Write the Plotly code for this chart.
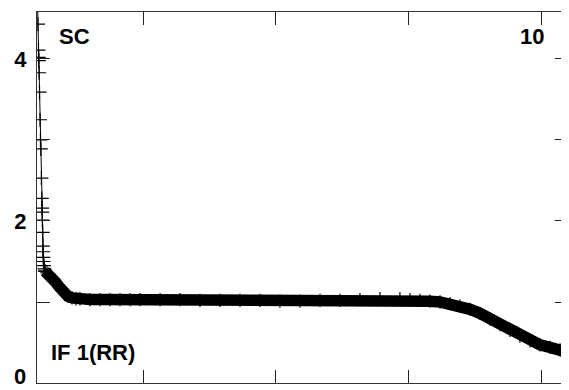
import plotly.graph_objects as go

# ---- data ----
# steep initial segment (sparse points joined by a thin line)
x_start = [0.203, 0.2075, 0.211, 0.213, 0.2136, 0.216, 0.219, 0.223, 0.226, 0.229,
           0.233, 0.236, 0.238, 0.239, 0.240, 0.242, 0.244, 0.245, 0.247, 0.249,
           0.253, 0.256, 0.260]
y_start = [4.75, 4.43, 4.11, 4.02, 3.98, 3.83, 3.59, 3.25, 3.00, 2.89,
           2.53, 2.28, 2.16, 2.11, 2.01, 1.86, 1.69, 1.62, 1.55, 1.50,
           1.45, 1.41, 1.38]

# dense main band
x_main = [0.260, 0.275, 0.290, 0.305, 0.321, 0.343, 0.366, 0.388, 0.411, 0.434,
          0.464, 0.494, 0.524, 0.599, 0.675, 0.750, 0.825, 0.901, 0.976, 1.127,
          1.277, 1.428, 1.579, 1.729, 1.880, 2.030, 2.181, 2.332, 2.482, 2.633,
          2.784, 2.934, 3.010, 3.085, 3.160, 3.236, 3.311, 3.386, 3.462, 3.537,
          3.612, 3.688, 3.763, 3.838, 3.914, 3.989, 4.064, 4.140, 4.192]
y_main = [1.38, 1.36, 1.34, 1.31, 1.28, 1.24, 1.19, 1.14, 1.10, 1.07,
          1.05, 1.04, 1.04, 1.03, 1.03, 1.03, 1.03, 1.03, 1.03, 1.03,
          1.03, 1.02, 1.02, 1.02, 1.02, 1.01, 1.01, 1.02, 1.02, 1.03,
          1.04, 1.04, 1.03, 1.02, 1.01, 1.00, 0.98, 0.95, 0.91, 0.86,
          0.79, 0.72, 0.65, 0.58, 0.52, 0.47, 0.44, 0.41, 0.38]

x_ticks = [1, 2, 3, 4]
y_ticks = [0, 1, 2, 3, 4]
y_ticktext = ["0", "", "2", "", "4"]

FONT = "Liberation Sans, Arial, sans-serif"

fig = go.Figure()
fig.add_trace(go.Scatter(
    x=x_start, y=y_start, mode="lines+markers",
    line=dict(color="black", width=1),
    marker=dict(symbol="cross-thin", size=10, line=dict(color="black", width=1.2)),
    showlegend=False, cliponaxis=True))
fig.add_trace(go.Scatter(
    x=x_main, y=y_main, mode="lines+markers",
    line=dict(color="black", width=11.5),
    marker=dict(symbol="cross-thin", size=9.5, line=dict(color="black", width=1.2)),
    showlegend=False, cliponaxis=True))

fig.update_xaxes(range=[0.2, 4.2], tickvals=x_ticks, ticktext=["", "", "", ""],
                 ticks="inside", ticklen=13, tickwidth=1, tickcolor="#222",
                 showline=True, linecolor="#333", linewidth=1, mirror="ticks",
                 showgrid=False, zeroline=False)
fig.update_yaxes(range=[0, 4.58], tickvals=y_ticks[1:], ticktext=y_ticktext[1:],
                 ticks="inside", ticklen=13, tickwidth=1, tickcolor="#222",
                 showline=True, linecolor="#333", linewidth=1, mirror="ticks",
                 showgrid=False, zeroline=False,
                 tickfont=dict(family=FONT, size=22, color="black", weight="bold"),
                 ticklabelstandoff=5)

ann_font = dict(family=FONT, size=22, color="black", weight="bold")
# the page body has an 8px default margin; size/margins compensate for it
fig.update_layout(
    width=561, height=382,
    margin=dict(l=29, r=1, t=4, b=7),
    plot_bgcolor="white", paper_bgcolor="white",
    annotations=[
        dict(text="SC", xref="paper", yref="paper", x=0.038, y=0.935,
             xanchor="left", yanchor="middle", showarrow=False, font=ann_font),
        dict(text="10", xref="paper", yref="paper", x=0.958, y=0.935,
             xanchor="right", yanchor="middle", showarrow=False, font=ann_font),
        dict(text="IF 1(RR)", xref="paper", yref="paper", x=0.023, y=0.083,
             xanchor="left", yanchor="middle", showarrow=False, font=ann_font),
        # bottom tick label of the y axis, kept inside the figure
        dict(text=y_ticktext[0], xref="paper", yref="y", x=-0.018, y=y_ticks[0],
             xanchor="right", yanchor="bottom", yshift=-7, borderpad=0,
             showarrow=False, font=ann_font),
    ],
)
fig.write_html("out.html")
